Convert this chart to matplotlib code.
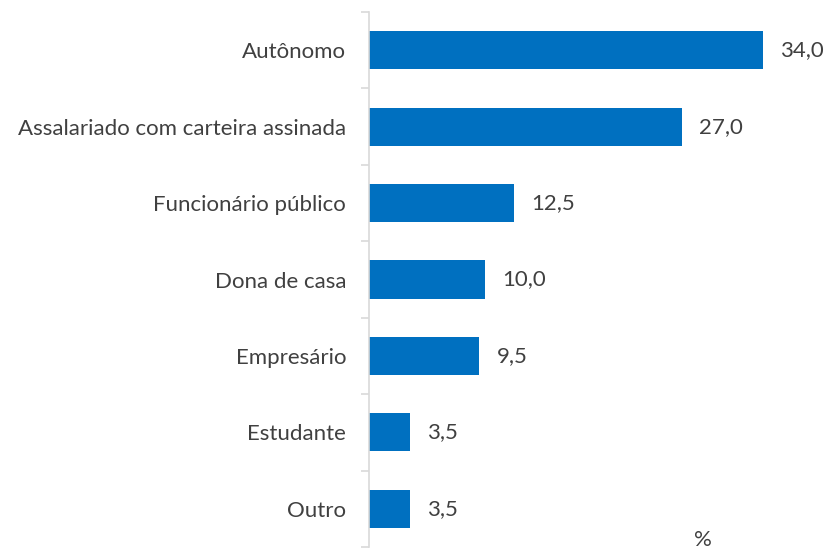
import numpy as np
import matplotlib.pyplot as plt

categories = ["Autônomo", "Assalariado com carteira assinada", "Funcionário público",
              "Dona de casa", "Empresário", "Estudante", "Outro"]
values = [34.0, 27.0, 12.5, 10.0, 9.5, 3.5, 3.5]
labels = ["34,0", "27,0", "12,5", "10,0", "9,5", "3,5", "3,5"]

plt.rcParams['font.family'] = ['Lato', 'DejaVu Sans']
text_color = "#404040"
fs = 16

fig = plt.figure(figsize=(8.28, 5.5), dpi=100)
# axes placed in pixel terms: left 369, top 12, bottom 547
xmax = 37
left = 369 / 828
width = (11.59 * xmax) / 828
bottom = (550 - 547) / 550
height = (547 - 12) / 550
ax = fig.add_axes([left, bottom, width, height])

y = np.arange(len(categories))
ax.barh(y, values, height=0.5, color="#0070C0")
ax.set_xlim(0, xmax)
ax.set_ylim(len(categories) - 0.5, -0.5)

for yi, v, lab in zip(y, values, labels):
    ax.text(v + 1.5, yi, lab, va="center", ha="left", fontsize=fs, color=text_color)

ax.set_yticks(y)
ax.set_yticklabels(categories, fontsize=fs, color=text_color)
ax.set_yticks(np.arange(-0.5, len(categories)), minor=True)
ax.tick_params(axis="y", which="major", length=0, pad=16.5)
ax.tick_params(axis="y", which="minor", length=6, color="#d9d9d9", width=1.2)
ax.set_xticks([])
for s in ["top", "right", "bottom"]:
    ax.spines[s].set_visible(False)
ax.spines["left"].set_color("#d9d9d9")
ax.spines["left"].set_linewidth(1.2)

fig.text(703 / 828, 1 - 540 / 550, "%", ha="center", va="center", fontsize=fs, color=text_color)

fig.savefig("out.png", dpi=100)
